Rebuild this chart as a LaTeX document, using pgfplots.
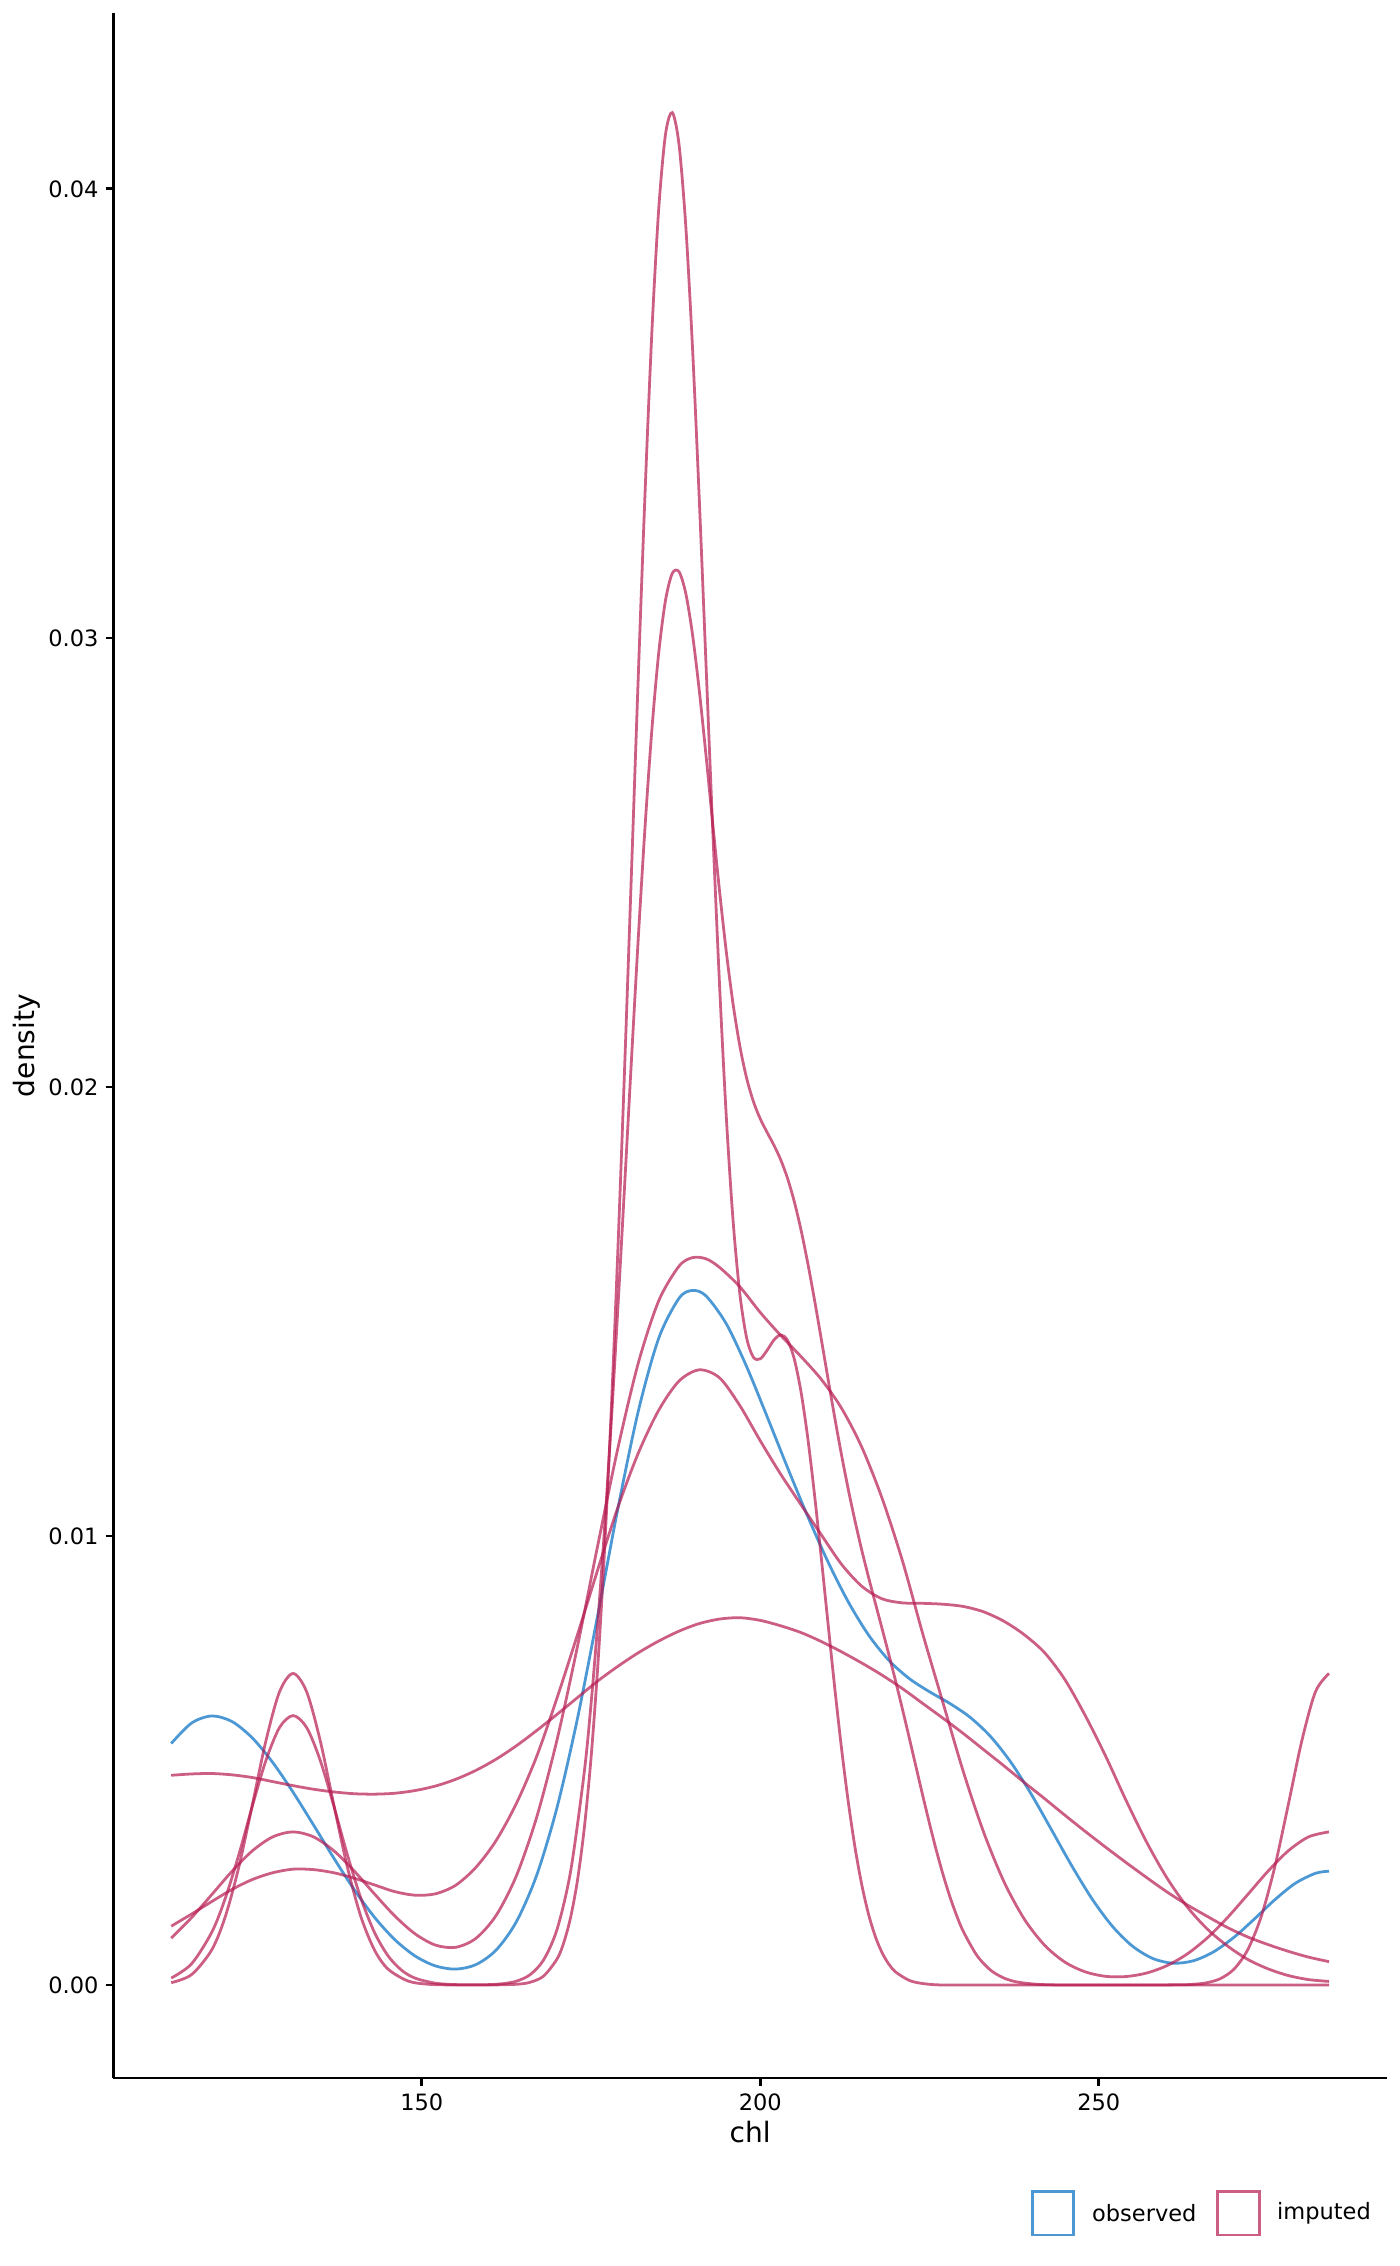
\documentclass[border=0pt]{standalone}
\usepackage{fontspec}
\setmainfont{DejaVu Sans}
\usepackage{pgfplots}
\pgfplotsset{compat=1.18}
\definecolor{obsblue}{HTML}{006CC2}
\definecolor{impred}{HTML}{B61A51}
\begin{document}
\begin{tikzpicture}
\begin{axis}[
  width=458.5pt, height=743.3pt, scale only axis,
  xmin=104.45, xmax=292.55, ymin=-0.00207, ymax=0.04391,
  axis lines=left, axis line style={-, line width=1.0pt, black},
  tick style={line width=1.0pt, black},
  tick align=outside, major tick length=2.74pt,
  xtick={150,200,250}, ytick={0,0.01,0.02,0.03,0.04},
  scaled y ticks=false,
  yticklabel style={/pgf/number format/fixed, /pgf/number format/fixed zerofill, /pgf/number format/precision=2, inner sep=0pt, xshift=-2.4pt},
  xticklabel style={inner sep=0pt, yshift=-2.76pt},
  /pgf/number format/assume math mode=true,
  ticklabel style={font=\fontsize{8.1}{9.5}\selectfont, text=black},
  xlabel={chl}, ylabel={density},
  label style={font=\fontsize{10.1}{12}\selectfont},
  xlabel style={at={(axis description cs:0.5,-0.0264)}, anchor=center},
  ylabel style={at={(axis description cs:-0.0678,0.5)}, anchor=center},
  every axis plot/.append style={line width=1.0pt, draw opacity=0.7, no marks},
]
% observed
\addplot[obsblue, smooth] table {
113 0.005378
116 0.005833
119 0.005992
122 0.005865
125 0.005499
128 0.004955
131 0.004293
134 0.003568
137 0.002830
140 0.002130
143 0.001513
146 0.001013
149 0.000648
152 0.000426
155 0.000354
158 0.000454
161 0.000780
164 0.001415
167 0.002454
170 0.003963
173 0.005934
176 0.008241
179 0.010633
182 0.012788
185 0.014403
188 0.015293
190 0.015468
192 0.015344
195 0.014721
198 0.013766
201 0.012663
204 0.011532
207 0.010439
210 0.009425
213 0.008532
216 0.007793
219 0.007229
222 0.006825
225 0.006530
228 0.006270
231 0.005961
234 0.005536
237 0.004964
240 0.004256
243 0.003461
246 0.002657
249 0.001919
252 0.001309
255 0.000862
258 0.000589
261 0.000485
264 0.000541
267 0.000743
270 0.001067
273 0.001473
276 0.001899
279 0.002263
282 0.002488
284 0.002534
};
% imputed 1
\addplot[impred, smooth] table {
113 0.0000517
116 0.000231
119 0.000786
121 0.001529
123 0.002636
125 0.004025
127 0.005447
129 0.006531
131 0.006938
133 0.006531
135 0.005447
137 0.004025
139 0.002636
141 0.001529
143 0.000786
145 0.000358
148 0.0000877
151 0.0000164
155 0
160 0
164 0.0000164
166 0.0000604
168 0.000199
170 0.000583
171 0.000954
172 0.001513
173 0.002329
174 0.003479
175 0.005044
176 0.007095
177 0.009684
178 0.012827
179 0.016485
180 0.020560
181 0.024879
182 0.029216
183 0.033289
184 0.036839
185 0.039547
186 0.041211
187 0.041699
188 0.040989
189 0.039171
190 0.036439
191 0.033065
192 0.029366
193 0.025659
194 0.022229
195 0.019293
196 0.016992
197 0.015373
198 0.014402
199 0.013977
200 0.013945
201 0.014132
202 0.014361
203 0.014478
204 0.014366
205 0.013956
206 0.013226
207 0.012201
208 0.010938
209 0.009531
210 0.008062
211 0.006619
212 0.005271
213 0.004077
214 0.003058
215 0.002226
216 0.001572
217 0.001077
218 0.000716
219 0.000462
220 0.000289
222 0.000103
224 0.0000327
227 0
235 0
245 0
255 0
262 0.0000046
264 0.0000164
266 0.0000517
268 0.000145
270 0.000358
272 0.000786
274 0.001529
276 0.002636
278 0.004025
280 0.005447
282 0.006531
284 0.006938
};
% imputed 2
\addplot[impred, smooth] table {
113 0.000154
116 0.000471
119 0.001178
121 0.001937
123 0.002910
125 0.003994
127 0.005007
129 0.005735
131 0.006000
133 0.005735
135 0.005007
137 0.003994
139 0.002910
141 0.001937
143 0.001178
145 0.000654
147 0.000332
149 0.000154
152 0.000041
155 0.0000089
158 0.0000041
160 0.0000091
162 0.0000293
164 0.0000859
166 0.000229
168 0.000559
170 0.001246
172 0.002541
174 0.004734
175 0.006248
176 0.008062
177 0.010174
178 0.012557
179 0.015158
180 0.017896
181 0.020670
182 0.023358
183 0.025833
184 0.027971
185 0.029664
186 0.030833
187 0.031436
188 0.031474
189 0.030991
190 0.030070
191 0.028818
192 0.027364
193 0.025834
194 0.024344
195 0.022989
196 0.021830
197 0.020897
198 0.020188
199 0.019669
200 0.019290
201 0.018991
202 0.018708
203 0.018385
204 0.017977
205 0.017461
206 0.016828
207 0.016089
208 0.015267
209 0.014394
210 0.013507
211 0.012635
212 0.011807
213 0.011036
214 0.010330
215 0.009679
216 0.009077
217 0.008501
218 0.007932
219 0.007356
220 0.006761
221 0.006144
222 0.005507
223 0.004861
224 0.004217
225 0.003593
226 0.003000
227 0.002457
228 0.001971
229 0.001548
230 0.001190
232 0.000657
234 0.000332
236 0.000154
238 0.0000652
241 0.0000152
245 0
255 0
265 0
275 0
284 0
};
% imputed 3
\addplot[impred, smooth] table {
113 0.001044
116 0.001499
119 0.002015
122 0.002536
125 0.002990
128 0.003299
131 0.003410
134 0.003300
137 0.002992
140 0.002543
143 0.002032
146 0.001541
149 0.001141
152 0.000890
155 0.000839
158 0.001039
161 0.001552
164 0.002440
167 0.003748
170 0.005472
173 0.007539
176 0.009792
179 0.011974
182 0.013859
185 0.015236
188 0.016008
190 0.016199
192 0.016172
194 0.015980
197 0.015547
200 0.014978
203 0.014470
206 0.013998
209 0.013490
212 0.012846
215 0.011976
218 0.010836
221 0.009446
224 0.007820
227 0.006279
230 0.004747
233 0.003400
236 0.002298
239 0.001467
242 0.000885
245 0.000509
248 0.000293
251 0.000193
254 0.000188
257 0.000264
260 0.000427
263 0.000685
266 0.001046
269 0.001500
272 0.002015
275 0.002536
278 0.002990
281 0.003300
284 0.003410
};
% imputed 4
\addplot[impred, smooth] table {
113 0.00131
116 0.00158
119 0.00186
122 0.00213
125 0.00235
128 0.00250
131 0.00258
134 0.00257
137 0.00250
140 0.00238
143 0.00223
146 0.00208
149 0.00200
152 0.00203
155 0.00222
158 0.00262
161 0.00322
164 0.00405
167 0.00510
170 0.00640
173 0.00780
176 0.00925
179 0.01065
182 0.01185
185 0.01280
188 0.01345
191 0.01370
194 0.01352
197 0.01290
200 0.01212
203 0.01138
206 0.01070
209 0.01003
212 0.00937
215 0.00888
218 0.00860
221 0.00851
224 0.00850
227 0.00848
230 0.00843
233 0.00831
236 0.00810
239 0.00780
242 0.00740
245 0.00680
248 0.00600
251 0.00510
254 0.00412
257 0.00320
260 0.00240
263 0.00175
266 0.00125
269 0.00087
272 0.00057
275 0.00036
278 0.00021
281 0.00012
284 0.00008
};
% imputed 5
\addplot[impred, smooth] table {
113 0.00467
116 0.00470
119 0.00471
122 0.00468
125 0.00462
128 0.00453
131 0.00444
134 0.00436
137 0.00430
140 0.00426
143 0.00425
146 0.00427
149 0.00433
152 0.00443
155 0.00458
158 0.00478
161 0.00503
164 0.00533
167 0.00567
170 0.00603
173 0.00640
176 0.00677
179 0.00710
182 0.00740
185 0.00766
188 0.00788
191 0.00805
194 0.00815
197 0.00818
200 0.00812
203 0.00800
206 0.00785
209 0.00765
212 0.00742
215 0.00717
218 0.00690
221 0.00660
224 0.00627
227 0.00594
230 0.00560
233 0.00524
236 0.00488
239 0.00451
242 0.00415
245 0.00378
248 0.00342
251 0.00307
254 0.00273
257 0.00240
260 0.00208
263 0.00179
266 0.00153
269 0.00128
272 0.00107
275 0.00090
278 0.00075
281 0.00062
284 0.00052
};
\end{axis}
% legend
\draw[obsblue, draw opacity=0.7, line width=1.0pt] (331.0pt,-56.5pt) rectangle (345.8pt,-41.0pt);
\node[anchor=west, inner sep=0pt, font=\fontsize{8.1}{9.5}\selectfont] at (352.2pt,-48.8pt) {observed};
\draw[impred, draw opacity=0.7, line width=1.0pt] (397.6pt,-56.5pt) rectangle (412.6pt,-41.0pt);
\node[anchor=west, inner sep=0pt, font=\fontsize{8.1}{9.5}\selectfont] at (418.8pt,-48.8pt) {imputed};
\pgfresetboundingbox
\path[use as bounding box] (-40.8pt,-67.7pt) rectangle (463.2pt,748.1pt);
\end{tikzpicture}
\end{document}
